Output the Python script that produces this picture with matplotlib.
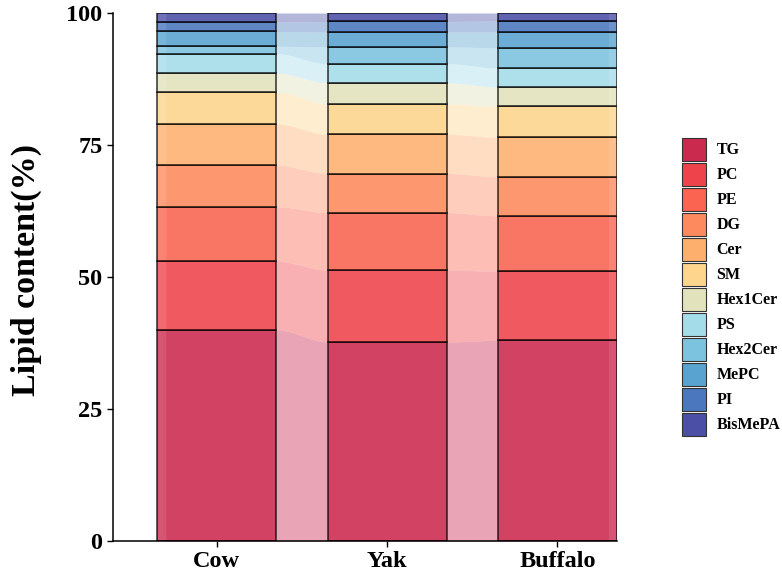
import numpy as np
import matplotlib
matplotlib.use("Agg")
import matplotlib.pyplot as plt
from matplotlib.patches import Rectangle

plt.rcParams['font.family'] = ['Liberation Serif', 'DejaVu Serif']
plt.rcParams['font.weight'] = 'bold'

# lipid classes, bottom to top of each stack
classes = ['TG', 'PC', 'PE', 'DG', 'Cer', 'SM', 'Hex1Cer', 'PS',
           'Hex2Cer', 'MePC', 'PI', 'BisMePA']
groups = ['Cow', 'Yak', 'Buffalo']

cow = [40.0, 13.0, 10.3, 7.9, 7.8, 6.0, 3.6, 3.7, 1.4, 2.8, 1.8, 1.7]
yak = [37.7, 13.6, 10.9, 7.4, 7.4, 5.8, 4.0, 3.6, 3.2, 2.8, 2.0, 1.6]
buffalo = [38.0, 13.1, 10.5, 7.4, 7.5, 5.8, 3.7, 3.6, 3.8, 3.0, 2.1, 1.5]

colors = ['#CB2A4F', '#EF434B', '#FA6450', '#FD8A5E', '#FDB06E', '#FDD58C',
          '#E2E2BC', '#A4DCEA', '#7CC3DF', '#58A3CF', '#4A77BE', '#4B4FA6']

values = np.array([cow, yak, buffalo])          # shape (groups, classes)
tops = np.cumsum(values, axis=1)
bottoms = tops - values

bar_w = 0.7
flow_half = 0.30

fig = plt.figure(figsize=(7.82, 5.74), dpi=100)
ax = fig.add_axes([113 / 782, 33 / 574, (617 - 113) / 782, (541 - 13) / 574])

xs = np.arange(1, len(groups) + 1)


def smooth(t):
    return 3 * t ** 2 - 2 * t ** 3


# flows: flat under each bar, s-curve in the gaps
for k in range(len(classes)):
    px, plo, phi = [], [], []
    for g in range(len(groups)):
        left = xs[g] - (flow_half if g == 0 else bar_w / 2)
        right = xs[g] + (flow_half if g == len(groups) - 1 else bar_w / 2)
        px += [left, right]
        plo += [bottoms[g, k]] * 2
        phi += [tops[g, k]] * 2
        if g < len(groups) - 1:
            t = np.linspace(0, 1, 40)[1:-1]
            s = smooth(t)
            gx = right + t * (1 - bar_w)
            px += list(gx)
            plo += list(bottoms[g, k] + s * (bottoms[g + 1, k] - bottoms[g, k]))
            phi += list(tops[g, k] + s * (tops[g + 1, k] - tops[g, k]))
    ax.fill_between(px, plo, phi, color=colors[k], alpha=0.42, lw=0, zorder=1)

# stacked bars on top
for k in range(len(classes)):
    ax.bar(xs, values[:, k], bottom=bottoms[:, k], width=bar_w,
           color=colors[k], edgecolor='black', linewidth=1.1,
           alpha=0.8, zorder=2)

ax.set_xlim(1 - 0.61, 3 + bar_w / 2)
ax.set_ylim(0, 100)
ax.set_yticks([0, 25, 50, 75, 100])
ax.set_xticks(xs)
ax.set_xticklabels(groups)
ax.tick_params(axis='both', labelsize=17.5, width=1, length=4, color='black')
for lab in ax.get_xticklabels() + ax.get_yticklabels():
    lab.set_fontweight('bold')
ax.spines['top'].set_visible(False)
ax.spines['right'].set_visible(False)
for sp in ['left', 'bottom']:
    ax.spines[sp].set_linewidth(1.1)
ax.set_ylabel('Lipid content(%)', fontsize=24.5, fontweight='bold')
ax.yaxis.set_label_coords(-0.141, 0.513)

handles = [Rectangle((0, 0), 1, 1, facecolor=c, edgecolor='#333333', linewidth=0.8)
           for c in colors]
fig.legend(handles, classes, loc='upper left', bbox_to_anchor=(682 / 782, 1 - 138 / 574),
           frameon=False, handlelength=1.5, handleheight=1.8,
           labelspacing=0.15, handletextpad=0.65, borderpad=0, borderaxespad=0,
           prop={'weight': 'bold', 'size': 11.5})

fig.savefig('out.png', dpi=100)
